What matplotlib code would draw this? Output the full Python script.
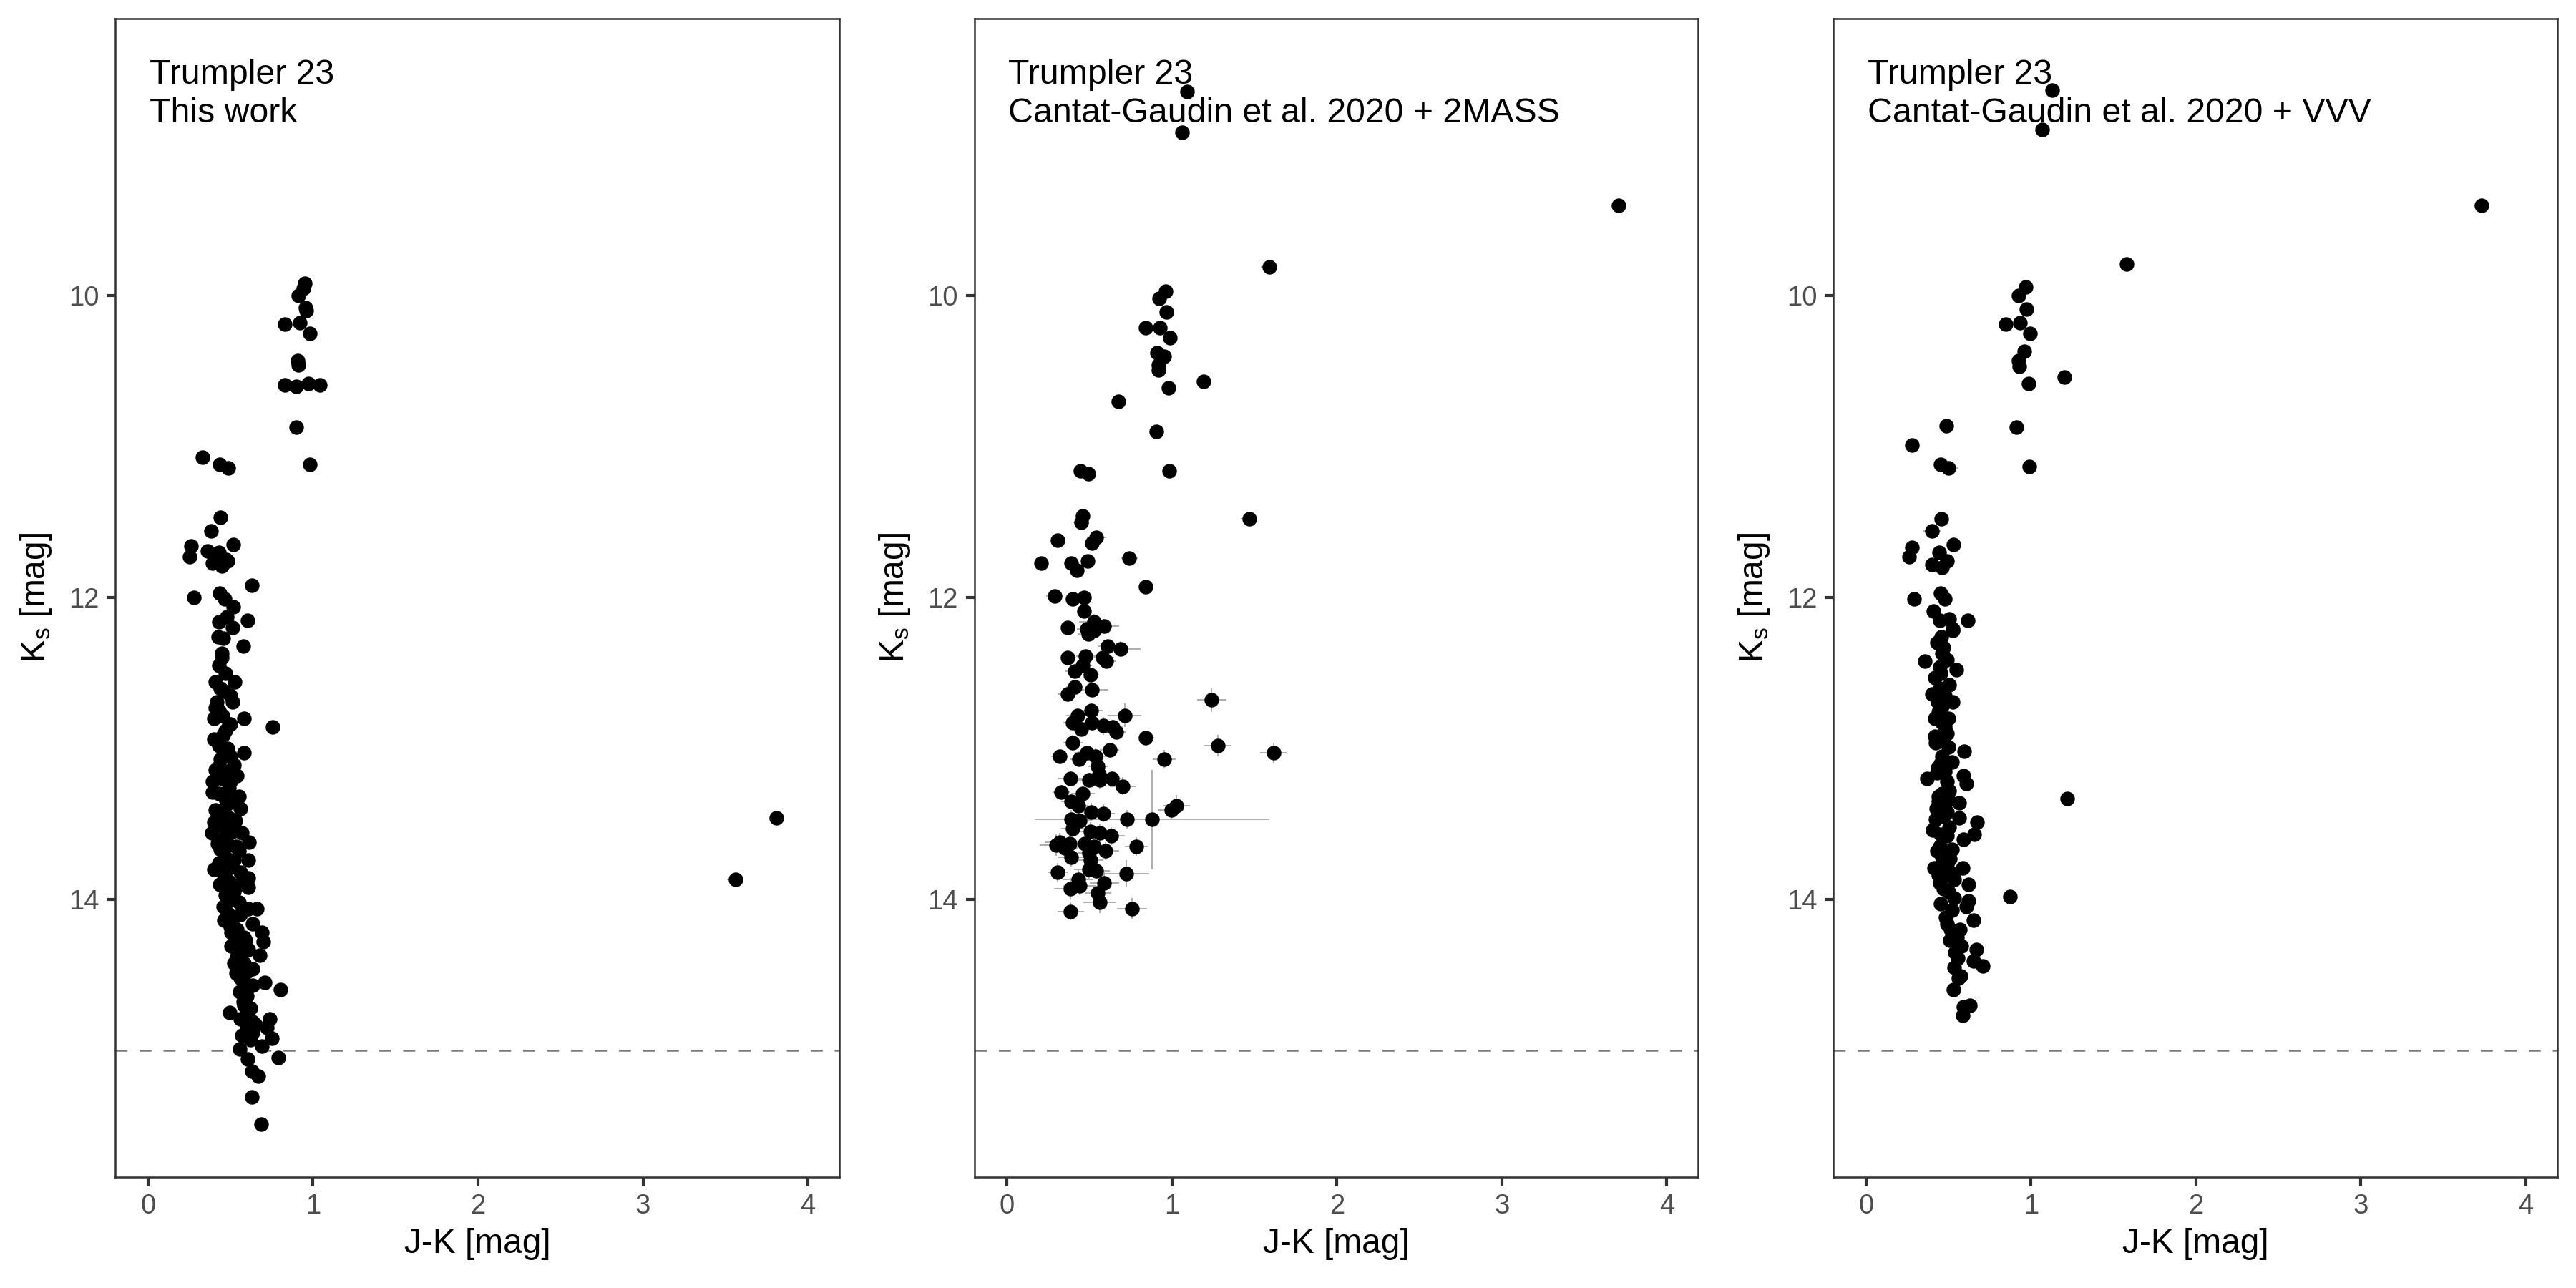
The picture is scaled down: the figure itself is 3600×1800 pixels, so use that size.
import matplotlib
matplotlib.use("Agg")
import matplotlib.pyplot as plt

plt.rcParams["font.family"] = ["Liberation Sans", "DejaVu Sans"]
plt.rcParams["mathtext.fontset"] = "custom"
plt.rcParams["mathtext.rm"] = "Liberation Sans"
plt.rcParams["mathtext.it"] = "Liberation Sans:italic"

# --- Panel 1: This work ---
p1_jk = [0.95, 0.94, 0.91, 0.955, 0.96, 0.83, 0.92, 0.98, 0.905, 0.91, 0.83, 0.90, 0.97, 1.04, 0.90, 0.98,
         0.33, 0.435, 0.485, 0.44, 0.38, 0.515, 0.26, 0.25, 0.36, 0.43, 0.475, 0.39, 0.445, 0.48, 0.63, 0.28,
         0.435, 0.464, 0.516, 0.43, 0.476, 0.51, 0.603, 0.425, 0.454, 0.577, 0.447, 0.447, 0.408, 0.524, 0.50,
         0.51, 0.415, 0.41, 0.40, 0.45, 0.49, 0.50, 0.58, 0.755, 0.40, 0.454, 0.48, 0.58, 0.44, 0.41, 0.52, 0.54,
         0.39, 0.39, 0.49, 0.55, 0.56, 0.41, 0.476, 0.40, 0.53, 0.385, 0.57, 0.45, 0.61,
         0.43, 0.47, 0.44, 0.46, 0.43, 0.47, 0.43, 0.46, 0.50, 0.43, 0.47, 0.45, 0.50, 0.43, 0.47, 0.52, 0.44,
         0.49, 0.46, 0.51, 0.42, 0.49, 0.55, 0.47, 0.52, 0.43, 0.56, 0.46, 0.49, 0.55, 0.47, 0.50, 0.55, 0.48,
         0.52, 0.56, 0.50, 0.54, 0.58, 0.53, 0.56, 0.54, 0.58, 0.60, 0.56, 0.59, 0.60, 0.58, 0.60, 0.65, 0.60, 0.62,
         0.44, 0.534, 0.606, 0.40, 0.49, 0.433, 0.606, 0.606, 0.52, 0.454, 0.46, 0.606, 0.66, 0.635, 0.505, 0.505,
         0.69, 0.70, 0.59, 0.678, 0.606, 0.52, 0.534, 0.635, 0.577, 0.707, 0.804, 0.635, 0.555, 0.577, 0.62, 0.495,
         0.56, 0.736, 0.635, 0.57, 0.635, 0.72, 0.75, 0.69, 0.555, 0.603, 0.79, 0.628, 0.67, 0.63, 0.685,
         3.56, 3.81]
p1_ks = [9.92, 9.95, 10.00, 10.08, 10.10, 10.19, 10.18, 10.25, 10.43, 10.46, 10.59, 10.60, 10.58, 10.59, 10.87, 11.12,
         11.07, 11.12, 11.14, 11.47, 11.56, 11.65, 11.66, 11.73, 11.69, 11.70, 11.75, 11.77, 11.79, 11.76, 11.92, 12.00,
         11.97, 12.01, 12.06, 12.16, 12.13, 12.20, 12.15, 12.26, 12.27, 12.32, 12.37, 12.40, 12.56, 12.56, 12.65,
         12.69, 12.69, 12.73, 12.80, 12.78, 12.84, 12.84, 12.80, 12.86, 12.94, 12.91, 13.00, 13.03, 13.07, 13.14, 13.11, 13.18,
         13.22, 13.29, 13.26, 13.32, 13.40, 13.41, 13.37, 13.49, 13.48, 13.56, 13.56, 13.60, 13.62,
         12.45, 12.50, 12.60, 12.62, 12.75, 12.88, 12.98, 13.02, 13.05, 13.12, 13.15, 13.20, 13.22, 13.30, 13.33, 13.35, 13.44,
         13.46, 13.52, 13.55, 13.63, 13.64, 13.68, 13.72, 13.74, 13.76, 13.82, 13.84, 13.88, 13.90, 13.97, 14.00, 14.02, 14.09,
         14.12, 14.10, 14.18, 14.20, 14.25, 14.28, 14.35, 14.38, 14.42, 14.48, 14.52, 14.58, 14.64, 14.70, 14.76, 14.83, 14.86, 14.93,
         13.67, 13.65, 13.74, 13.80, 13.79, 13.90, 13.86, 13.92, 13.95, 14.05, 14.14, 14.06, 14.06, 14.16, 14.22, 14.31,
         14.22, 14.28, 14.27, 14.37, 14.33, 14.42, 14.49, 14.46, 14.54, 14.55, 14.60, 14.57, 14.61, 14.68, 14.72, 14.75,
         14.79, 14.79, 14.81, 14.90, 14.88, 14.85, 14.92, 14.97, 14.99, 15.06, 15.05, 15.14, 15.17, 15.31, 15.49,
         13.87, 13.46]
# points of panel 1 with visible error bars
p1_eb_jk = [3.56, 3.81, 0.485, 0.38]
p1_eb_ks = [13.87, 13.46, 11.14, 11.56]
p1_eb_xerr = [0.05, 0.04, 0.05, 0.04]
p1_eb_yerr = [0.01, 0.01, 0.01, 0.01]

# --- Panel 2: Cantat-Gaudin et al. 2020 + 2MASS ---
p2_jk = [1.094, 1.062, 3.71, 1.59,
         0.964, 0.923, 0.967, 0.84, 0.929, 0.988, 0.91, 0.953, 0.92, 0.92, 1.193, 0.98, 0.675, 0.906,
         0.446, 0.493, 0.985, 1.468,
         0.459, 0.449, 0.309, 0.543, 0.517, 0.209, 0.391, 0.423, 0.49, 0.743, 0.842, 0.29, 0.40, 0.467,
         0.467, 0.37, 0.529, 0.486, 0.493, 0.529, 0.59, 0.61, 0.69, 0.37, 0.478, 0.58, 0.604, 0.457,
         0.413, 0.507, 0.41, 0.367, 0.517, 1.242, 0.51, 0.43, 0.40, 0.449, 0.514, 0.713, 0.584, 0.642,
         0.662, 0.842, 0.40, 1.278, 0.622, 0.319, 0.483, 0.439, 0.538, 1.616, 0.954, 0.55, 0.558, 0.387,
         0.497, 0.565, 0.635, 0.703, 0.329, 0.461, 0.391, 0.435, 0.51, 0.583, 1.029, 0.996, 0.391, 0.442,
         0.729, 0.88, 0.40, 0.507, 0.565, 0.633, 0.32, 0.30, 0.35, 0.38, 0.47, 0.53, 0.60, 0.50, 0.784,
         0.391, 0.507, 0.497, 0.543, 0.306, 0.722, 0.432, 0.44, 0.384, 0.591, 0.551, 0.565, 0.386, 0.758]
p2_ks = [8.65, 8.92, 9.40, 9.81,
         9.97, 10.02, 10.11, 10.21, 10.21, 10.28, 10.38, 10.40, 10.46, 10.49, 10.57, 10.61, 10.70, 10.90,
         11.16, 11.18, 11.16, 11.48,
         11.46, 11.50, 11.62, 11.60, 11.64, 11.77, 11.77, 11.82, 11.76, 11.74, 11.93, 11.99, 12.01, 12.00,
         12.09, 12.20, 12.16, 12.21, 12.24, 12.22, 12.19, 12.32, 12.34, 12.40, 12.39, 12.40, 12.42, 12.45,
         12.49, 12.51, 12.59, 12.64, 12.61, 12.68, 12.75, 12.78, 12.83, 12.87, 12.83, 12.78, 12.85, 12.86,
         12.89, 12.93, 12.96, 12.98, 13.01, 13.05, 13.03, 13.07, 13.05, 13.03, 13.07, 13.12, 13.17, 13.20,
         13.21, 13.21, 13.20, 13.25, 13.29, 13.30, 13.35, 13.38, 13.42, 13.43, 13.38, 13.41, 13.47, 13.48,
         13.47, 13.47, 13.53, 13.55, 13.56, 13.58, 13.62, 13.64, 13.66, 13.63, 13.63, 13.65, 13.68, 13.69, 13.65,
         13.72, 13.74, 13.80, 13.81, 13.82, 13.83, 13.87, 13.91, 13.93, 13.89, 13.96, 14.02, 14.08, 14.06]
p2_xerr = [0.02, 0.02, 0.03, 0.05,
           0.02, 0.02, 0.02, 0.02, 0.02, 0.02, 0.02, 0.02, 0.02, 0.02, 0.03, 0.02, 0.03, 0.02,
           0.04, 0.05, 0.02, 0.05,
           0.04, 0.05, 0.04, 0.06, 0.04, 0.03, 0.04, 0.04, 0.04, 0.05, 0.04, 0.05, 0.04, 0.04,
           0.04, 0.04, 0.09, 0.06, 0.06, 0.05, 0.09, 0.06, 0.12, 0.05, 0.06, 0.07, 0.06, 0.06,
           0.06, 0.05, 0.05, 0.06, 0.10, 0.09, 0.07, 0.07, 0.06, 0.06, 0.07, 0.10, 0.08, 0.06,
           0.06, 0.05, 0.06, 0.08, 0.06, 0.05, 0.07, 0.06, 0.07, 0.08, 0.07, 0.06, 0.06, 0.08,
           0.07, 0.07, 0.06, 0.08, 0.05, 0.07, 0.06, 0.06, 0.07, 0.07, 0.08, 0.08, 0.07, 0.07,
           0.07, 0.71, 0.07, 0.09, 0.08, 0.08, 0.09, 0.10, 0.08, 0.07, 0.08, 0.08, 0.08, 0.07, 0.07,
           0.08, 0.08, 0.09, 0.08, 0.06, 0.14, 0.09, 0.10, 0.10, 0.09, 0.08, 0.10, 0.08, 0.09]
p2_yerr = [0.02, 0.02, 0.02, 0.03,
           0.02, 0.02, 0.02, 0.02, 0.02, 0.02, 0.02, 0.02, 0.02, 0.02, 0.02, 0.02, 0.02, 0.02,
           0.02, 0.02, 0.02, 0.03,
           0.03, 0.03, 0.03, 0.04, 0.03, 0.02, 0.03, 0.03, 0.03, 0.03, 0.03, 0.03, 0.03, 0.03,
           0.03, 0.03, 0.05, 0.04, 0.04, 0.04, 0.05, 0.04, 0.05, 0.04, 0.04, 0.04, 0.04, 0.04,
           0.04, 0.04, 0.04, 0.04, 0.05, 0.08, 0.05, 0.05, 0.04, 0.04, 0.05, 0.08, 0.06, 0.05,
           0.05, 0.04, 0.05, 0.07, 0.05, 0.04, 0.05, 0.05, 0.05, 0.07, 0.06, 0.05, 0.05, 0.05,
           0.05, 0.06, 0.05, 0.06, 0.05, 0.05, 0.05, 0.05, 0.06, 0.06, 0.07, 0.06, 0.06, 0.05,
           0.06, 0.33, 0.06, 0.06, 0.06, 0.06, 0.06, 0.07, 0.06, 0.06, 0.07, 0.06, 0.06, 0.06, 0.06,
           0.06, 0.07, 0.07, 0.06, 0.06, 0.09, 0.07, 0.06, 0.07, 0.07, 0.06, 0.07, 0.06, 0.07]

# --- Panel 3: Cantat-Gaudin et al. 2020 + VVV ---
p3_jk = [1.13, 1.07, 3.73, 1.58,
         0.967, 0.925, 0.972, 0.848, 0.935, 0.994, 0.959, 0.923, 0.929, 0.987, 1.201,
         0.485, 0.279, 0.911, 0.453, 0.498, 0.99,
         0.455, 0.40, 0.53, 0.279, 0.262, 0.443, 0.401, 0.491, 0.462, 0.291, 0.452, 0.48, 0.407,
         0.448, 0.505, 0.527, 0.619, 0.455, 0.527, 0.358, 0.462, 0.491, 0.448, 0.549, 0.419, 0.505,
         0.448, 0.433, 0.527, 0.477, 0.419, 0.498, 0.462, 0.419, 0.491, 0.498, 0.462, 0.52, 0.595,
         0.368, 0.433, 0.491, 0.592, 0.607, 0.44, 0.505, 0.563, 0.426, 0.491, 0.563, 0.404, 0.505,
         0.592, 0.448, 0.52, 0.411, 0.491, 0.585, 0.448, 0.535, 0.621, 0.672, 0.658, 0.535, 0.621,
         0.607, 0.484, 0.65, 0.513, 0.571, 0.872, 1.22, 0.578, 0.668, 0.556, 0.65, 0.535, 0.709,
         0.574, 0.629, 0.592, 0.588,
         0.43, 0.47, 0.45, 0.40, 0.46, 0.44, 0.48, 0.42, 0.47, 0.45, 0.43, 0.48, 0.46, 0.44, 0.50,
         0.42, 0.47, 0.45, 0.49, 0.43, 0.46, 0.51, 0.44, 0.48, 0.53, 0.47, 0.50, 0.45, 0.52, 0.49,
         0.55, 0.51, 0.54, 0.56, 0.53]
p3_ks = [8.64, 8.90, 9.40, 9.79,
         9.94, 10.00, 10.09, 10.19, 10.18, 10.25, 10.37, 10.43, 10.47, 10.58, 10.54,
         10.86, 10.99, 10.87, 11.12, 11.14, 11.13,
         11.48, 11.56, 11.65, 11.67, 11.73, 11.70, 11.78, 11.76, 11.80, 12.01, 11.97, 12.01, 12.09,
         12.15, 12.14, 12.21, 12.15, 12.26, 12.22, 12.42, 12.37, 12.41, 12.46, 12.48, 12.53, 12.58,
         12.60, 12.69, 12.69, 12.65, 12.80, 12.80, 12.83, 12.92, 12.90, 12.99, 13.05, 13.09, 13.02,
         13.20, 13.13, 13.22, 13.18, 13.23, 13.32, 13.28, 13.36, 13.40, 13.42, 13.46, 13.54, 13.52,
         13.60, 13.65, 13.67, 13.79, 13.77, 13.79, 13.89, 13.87, 13.90, 13.49, 13.57, 13.99, 14.01,
         14.05, 14.12, 14.14, 14.20, 14.20, 13.98, 13.33, 14.31, 14.33, 14.39, 14.41, 14.45, 14.44,
         14.51, 14.70, 14.71, 14.77,
         12.30, 12.33, 12.50, 12.64, 12.72, 12.76, 12.86, 12.96, 12.95, 13.10, 13.16, 13.15, 13.30, 13.35, 13.34,
         13.47, 13.45, 13.57, 13.58, 13.68, 13.72, 13.73, 13.84, 13.84, 13.83, 13.93, 13.95, 14.03, 14.07, 14.16,
         14.25, 14.27, 14.35, 14.52, 14.60]
p3_eb_jk = [3.73, 0.455, 0.40, 0.498, 0.443]
p3_eb_ks = [9.40, 11.48, 11.56, 11.14, 11.70]
p3_eb_xerr = [0.04, 0.04, 0.05, 0.06, 0.04]
p3_eb_yerr = [0.01, 0.01, 0.01, 0.01, 0.01]

titles = ["Trumpler 23\nThis work",
          "Trumpler 23\nCantat-Gaudin et al. 2020 + 2MASS",
          "Trumpler 23\nCantat-Gaudin et al. 2020 + VVV"]
mag_limit = 15.0

fig = plt.figure(figsize=(12, 6), dpi=300)
lefts = [0.0448, 0.3782, 0.7117]
width = 0.2810
bottom, height = 0.0861, 0.8996

ERR_COLOR = "#ABABAB"
PT_SIZE = 24


def style_axis(ax, title):
    ax.set_xlim(-0.198, 4.19)
    ax.set_ylim(15.84, 8.163)
    ax.set_xticks([0, 1, 2, 3, 4])
    ax.set_yticks([10, 12, 14])
    for s in ax.spines.values():
        s.set_color("#333333")
        s.set_linewidth(0.6)
    ax.tick_params(length=3.0, width=1.0, color="#333333", labelcolor="#4D4D4D",
                   labelsize=9.2, pad=2.5)
    ax.axhline(mag_limit, color="#7A7A7A", lw=0.6, ls=(0, (6.7, 6.7)), zorder=1)
    ax.set_xlabel("J-K [mag]", fontsize=11.5, labelpad=3)
    ax.set_ylabel(r"K$_{\mathrm{s}}$ [mag]", fontsize=11.5, labelpad=5)
    ax.text(0.01, 8.43, title, fontsize=11.6, ha="left", va="top", linespacing=1.26, zorder=5)


axes = [fig.add_axes([l, bottom, width, height]) for l in lefts]

ax = axes[0]
ax.errorbar(p1_eb_jk, p1_eb_ks, xerr=p1_eb_xerr, yerr=p1_eb_yerr, fmt="none",
            ecolor=ERR_COLOR, elinewidth=0.45, capsize=0, zorder=2)
ax.scatter(p1_jk, p1_ks, s=PT_SIZE, c="black", linewidths=0, zorder=3)
style_axis(ax, titles[0])

ax = axes[1]
ax.errorbar(p2_jk, p2_ks, xerr=p2_xerr, yerr=p2_yerr, fmt="none",
            ecolor=ERR_COLOR, elinewidth=0.45, capsize=0, zorder=2)
ax.scatter(p2_jk, p2_ks, s=PT_SIZE, c="black", linewidths=0, zorder=3)
style_axis(ax, titles[1])

ax = axes[2]
ax.errorbar(p3_eb_jk, p3_eb_ks, xerr=p3_eb_xerr, yerr=p3_eb_yerr, fmt="none",
            ecolor=ERR_COLOR, elinewidth=0.45, capsize=0, zorder=2)
ax.scatter(p3_jk, p3_ks, s=PT_SIZE, c="black", linewidths=0, zorder=3)
style_axis(ax, titles[2])

fig.savefig("out.png", dpi=300)
